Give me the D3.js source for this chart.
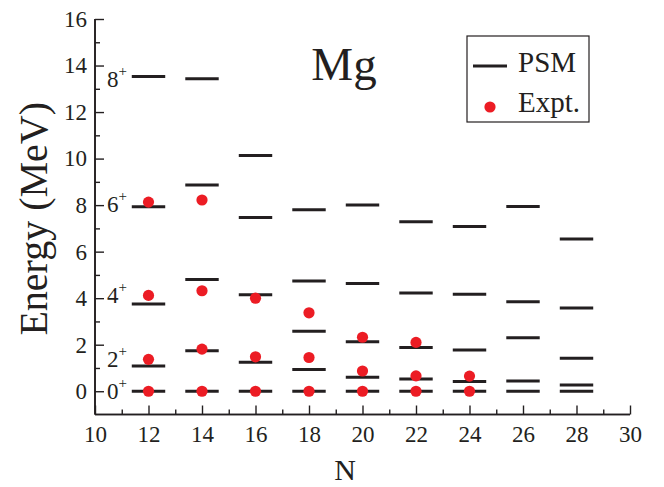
<!DOCTYPE html>
<html>
<head>
<meta charset="utf-8">
<script src="https://cdn.jsdelivr.net/npm/d3@7"></script>
<style>
  html, body { margin: 0; padding: 0; background: #fff; }
  svg text { font-family: "Liberation Serif", serif; fill: #231f20; }
</style>
</head>
<body>
<svg id="chart" width="664" height="487"></svg>
<script>
// Neutron numbers of the Mg isotopes
const neutrons = [12, 14, 16, 18, 20, 22, 24, 26, 28];

// PSM yrast levels (MeV) for 0+, 2+, 4+, 6+, 8+ at each N
const psm0 = [0, 0, 0, 0, 0, 0, 0, 0, 0];
const psm2 = [1.08, 1.74, 1.25, 0.93, 0.6, 0.53, 0.42, 0.44, 0.27];
const psm4 = [3.75, 4.8, 4.15, 2.58, 2.13, 1.88, 1.77, 2.3, 1.42];
const psm6 = [7.93, 8.87, 7.47, 4.74, 4.63, 4.22, 4.17, 3.85, 3.58];
const psm8 = [13.53, 13.43, 10.13, 7.8, 8.0, 7.28, 7.08, 7.94, 6.54];

// Experimental levels (MeV); null where no data
const expt0 = [0, 0, 0, 0, 0, 0, 0, null, null];
const expt2 = [1.37, 1.81, 1.48, 1.45, 0.87, 0.66, 0.65, null, null];
const expt4 = [4.12, 4.32, 4.0, 3.37, 2.32, 2.1, null, null, null];
const expt6 = [8.13, 8.22, null, null, null, null, null, null, null];

// Spin labels placed beside the N = 12 column
const spinLabels = ["0", "2", "4", "6", "8"];
const spinLabelEnergy = [0, 1.38, 4.12, 8.05, 13.4];

// Axis ticks
const xTicks = [10, 12, 14, 16, 18, 20, 22, 24, 26, 28, 30];
const yTicks = [0, 2, 4, 6, 8, 10, 12, 14, 16];

const svg = d3.select("#chart");
const x = d3.scaleLinear().domain([10, 30]).range([95, 630]);
const y = d3.scaleLinear().domain([-1, 16]).range([414.5, 19]);

const ink = "#231f20";
const red = "#ec1c24";
const serif = '"Liberation Serif", serif';

// Axes: left and bottom only, ticks pointing inward
const xMinor = svg.append("g").attr("transform", `translate(0,${y(-1)})`)
  .call(d3.axisBottom(x).tickValues(d3.range(11, 30, 2)).tickSize(-5).tickFormat(""));
const xMajor = svg.append("g").attr("transform", `translate(0,${y(-1)})`)
  .call(d3.axisBottom(x).tickValues(xTicks).tickSize(-9).tickPadding(11).tickFormat(d3.format("d")));
const yMinor = svg.append("g").attr("transform", `translate(${x(10)},0)`)
  .call(d3.axisLeft(y).tickValues(d3.range(1, 16, 2)).tickSize(-5).tickFormat(""));
const yMajor = svg.append("g").attr("transform", `translate(${x(10)},0)`)
  .call(d3.axisLeft(y).tickValues(yTicks).tickSize(-9).tickPadding(8).tickFormat(d3.format("d")));

[xMinor, xMajor, yMinor, yMajor].forEach(g => {
  g.attr("font-family", serif);
  g.selectAll("path.domain").attr("stroke", ink).attr("stroke-width", 1.6);
  g.selectAll(".tick line").attr("stroke", ink).attr("stroke-width", 1.4);
  g.selectAll(".tick text").attr("font-size", 23).attr("fill", ink);
});
// Axis lines without outer end caps
[xMinor, xMajor].forEach(g => g.select("path.domain").attr("d", `M${x(10)},0H${x(30)}`));
[yMinor, yMajor].forEach(g => g.select("path.domain").attr("d", `M0,${y(-1)}V${y(16)}`));

// Axis titles
svg.append("text")
  .attr("transform", `translate(47,${(y(16) + y(-1)) / 2 + 2}) rotate(-90)`)
  .attr("text-anchor", "middle").attr("font-size", 40)
  .text("Energy (MeV)");
svg.append("text")
  .attr("x", 345).attr("y", 480).attr("text-anchor", "middle").attr("font-size", 30)
  .text("N");

// Element label
svg.append("text").attr("x", 344).attr("y", 80).attr("text-anchor", "middle")
  .attr("font-size", 47).text("Mg");

// PSM level lines
const halfW = 0.625;
const psmSets = [psm0, psm2, psm4, psm6, psm8];
const psmData = [];
psmSets.forEach(set => set.forEach((e, i) => psmData.push({ n: neutrons[i], e })));
svg.append("g").selectAll("line").data(psmData).join("line")
  .attr("x1", d => x(d.n - halfW)).attr("x2", d => x(d.n + halfW))
  .attr("y1", d => y(d.e)).attr("y2", d => y(d.e))
  .attr("stroke", ink).attr("stroke-width", 3);

// Experimental points
const exptSets = [expt0, expt2, expt4, expt6];
const exptData = [];
exptSets.forEach(set => set.forEach((e, i) => { if (e !== null) exptData.push({ n: neutrons[i], e }); }));
svg.append("g").selectAll("circle").data(exptData).join("circle")
  .attr("cx", d => x(d.n)).attr("cy", d => y(d.e)).attr("r", 5.6)
  .attr("fill", red);

// Spin labels
const spins = svg.append("g");
spinLabels.forEach((s, i) => {
  const t = spins.append("text").attr("x", 107).attr("y", y(spinLabelEnergy[i]) + 8)
    .attr("font-size", 23);
  t.append("tspan").text(s);
  t.append("tspan").attr("dy", -11).attr("font-size", 15).text("+");
});

// Legend
const lg = svg.append("g");
lg.append("rect").attr("x", 467).attr("y", 36).attr("width", 122).attr("height", 86)
  .attr("fill", "none").attr("stroke", ink).attr("stroke-width", 1.2);
lg.append("line").attr("x1", 473).attr("x2", 507).attr("y1", 66).attr("y2", 66)
  .attr("stroke", ink).attr("stroke-width", 3);
lg.append("text").attr("x", 518).attr("y", 72).attr("font-size", 29).text("PSM");
lg.append("circle").attr("cx", 490).attr("cy", 107).attr("r", 5.6).attr("fill", red);
lg.append("text").attr("x", 518).attr("y", 112).attr("font-size", 29).text("Expt.");
</script>
</body>
</html>
